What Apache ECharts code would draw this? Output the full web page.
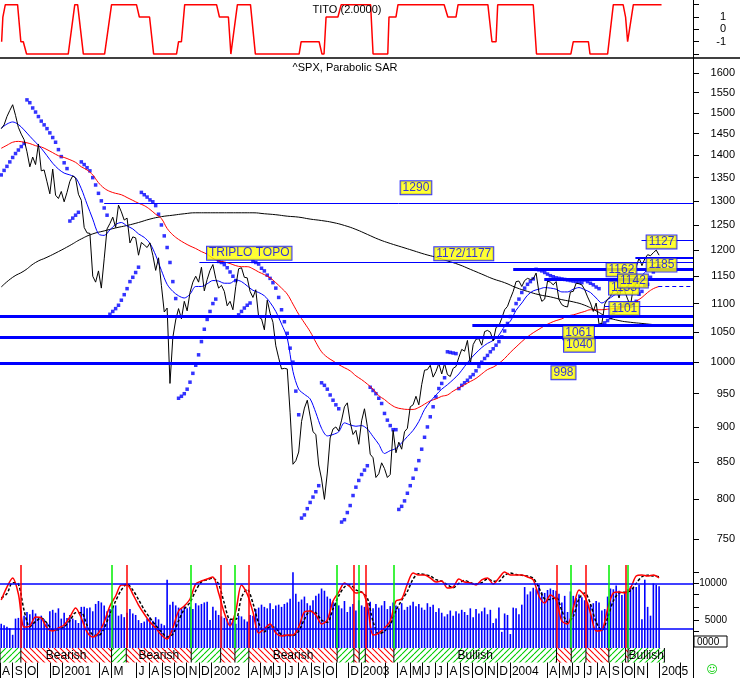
<!DOCTYPE html>
<html>
<head>
<meta charset="utf-8">
<title>^SPX, Parabolic SAR</title>
<script src="https://cdn.jsdelivr.net/npm/echarts@6.0.0/dist/echarts.min.js"></script>
<style>
  html, body { margin: 0; padding: 0; background: #fff; }
  #chart { width: 740px; height: 678px; }
</style>
</head>
<body>
<div id="chart"></div>
<script>
const DAY = 86400000;
const ts = s => Date.parse(s + 'T00:00:00Z');

// weekly closes, first week ending 2000-08-04
const firstWeek = '2000-08-04';
const closes = [
  1462, 1471, 1491, 1506, 1520, 1494, 1465, 1449, 1436, 1408,
  1374, 1396, 1379, 1426, 1365, 1367, 1341, 1315, 1369, 1312,
  1305, 1320, 1298, 1318, 1342, 1354, 1349, 1314, 1301, 1245,
  1234, 1233, 1150, 1139, 1160, 1128, 1183, 1242, 1253, 1266,
  1245, 1291, 1277, 1260, 1264, 1214, 1226, 1224, 1190, 1215,
  1210, 1205, 1214, 1190, 1161, 1185, 1133, 1085, 1092, 966,
  1041, 1071, 1091, 1073, 1104, 1087, 1120, 1139, 1150, 1139,
  1167, 1123, 1144, 1161, 1172, 1146, 1128, 1133, 1122, 1096,
  1104, 1089, 1131, 1164, 1166, 1148, 1147, 1122, 1111, 1125,
  1076, 1073, 1054, 1106, 1083, 1067, 1027, 1007, 989, 990,
  989, 921, 847, 852, 864, 908, 928, 940, 916, 893,
  889, 846, 827, 800, 835, 884, 897, 900, 894, 910,
  930, 936, 907, 889, 895, 875, 909, 927, 901, 861,
  856, 829, 834, 849, 841, 829, 833, 895, 863, 878,
  868, 893, 898, 930, 933, 946, 933, 964, 987, 988,
  995, 976, 985, 998, 981, 998, 980, 977, 990, 993,
  1008, 1021, 1018, 1036, 997, 1029, 1038, 1039, 1028, 1051,
  1053, 1050, 1035, 1058, 1061, 1074, 1089, 1095, 1109, 1122,
  1140, 1141, 1131, 1142, 1146, 1144, 1145, 1156, 1120, 1104,
  1108, 1141, 1139, 1134, 1140, 1107, 1098, 1095, 1094, 1121,
  1122, 1137, 1136, 1134, 1125, 1112, 1101, 1086, 1101, 1064,
  1065, 1099, 1108, 1113, 1123, 1128, 1110, 1131, 1122, 1108,
  1096, 1130, 1167, 1185, 1170, 1183, 1191, 1189, 1195, 1200,
  1190
];
const sarValues = [
  1356, 1366, 1375, 1385, 1395, 1404, 1412, 1420, 1427, 1532,
  1525, 1512, 1502, 1491, 1480, 1471, 1462, 1452, 1441, 1430,
  1413, 1397, 1383, 1370, 1258, 1264, 1270, 1276, 1385, 1379,
  1372, 1365, 1350, 1334, 1316, 1300, 1285, 1270, 1081, 1086,
  1091, 1097, 1106, 1116, 1127, 1140, 1148, 1157, 1167, 1318,
  1313, 1308, 1302, 1298, 1290, 1272, 1250, 1228, 1205, 1176,
  1140, 1109, 943, 946, 950, 957, 968, 982, 995, 1012,
  1034, 1055, 1072, 1086, 1100, 1108, 1178, 1176, 1172, 1166,
  1158, 1150, 1142, 1080, 1086, 1092, 1097, 1101, 1178, 1176,
  1173, 1165, 1160, 1152, 1146, 1138, 1128, 1111, 1089, 1068,
  1048, 1023, 1000, 954, 918, 776, 780, 788, 796, 803,
  810, 818, 967, 963, 957, 948, 940, 933, 927, 771,
  774, 783, 792, 805, 816, 825, 833, 839, 845, 960,
  955, 950, 943, 935, 920, 910, 902, 896, 896, 787,
  791, 798, 808, 818, 828, 840, 852, 868, 885, 900,
  915, 930, 945, 958, 966, 975, 1017, 1016, 1015, 1014,
  958, 963, 967, 971, 976, 980, 986, 993, 1000, 1006,
  1011, 1017, 1022, 1028, 1034, 1042, 1052, 1065, 1077, 1088,
  1100, 1108, 1120, 1128, 1135, 1140, 1145, 1163, 1162, 1160,
  1157, 1154, 1151, 1149, 1147, 1146, 1145, 1144, 1143, 1142,
  1141, 1140, 1139, 1138, 1143, 1140, 1137, 1134, 1130, 1127,
  1063, 1066, 1070, 1075, 1081, 1087, 1092, 1096, 1099, 1100,
  1095, 1100, 1104, 1117, 1122, 1133, 1135, 1148, 1158, 1165,
  1170
];
const volumes = [
  4500, 4300, 4100, 3900, 3000, 5200, 5300, 6300, 5600, 6100,
  5800, 6400, 5900, 5400, 5600, 5100, 4600, 6200, 6400, 6000,
  6600, 5200, 6000, 5300, 5700, 5200, 5000, 4600, 6800, 6800,
  6600, 6700, 6200, 7200, 7600, 7400, 7000, 6200, 6500, 6800,
  7000, 5600, 5800, 5400, 6000, 6500, 5900, 5700, 5000, 4600,
  4800, 5200, 5400, 4900, 5400, 5100, 4500, 4300, 10500, 7100,
  7500, 7000, 6700, 6600, 6900, 6600, 6800, 6500, 7300, 7000,
  7200, 7400, 7500, 5000, 6800, 6300, 5700, 5500, 5300, 5200,
  5100, 5000, 4500, 5600, 5500, 5100, 4800, 5700, 5600, 6500,
  6700, 7100, 6800, 6600, 7300, 6500, 7000, 7100, 6800, 7200,
  7400, 7900, 11500, 8600, 7500, 7800, 8200, 7300, 7000, 7700,
  8300, 8600, 9300, 9000, 8200, 7900, 7500, 7400, 7000, 6600,
  7600, 6100, 6800, 7200, 6300, 7700, 7000, 6800, 7300, 7500,
  6600, 7200, 6700, 7000, 7600, 6500, 6900, 7400, 7000, 6600,
  7300, 6400, 6800, 7000, 7500, 6900, 7200, 6700, 6400, 7300,
  6800, 7100, 6100, 6600, 6000, 5500, 5800, 6300, 5600, 6200,
  5900, 6400, 6100, 5700, 6600, 5400, 6500, 5900, 6200, 6700,
  5800, 6400, 4600, 5200, 6700, 3400, 5900, 5700, 3100, 6700,
  6600, 5800, 7100, 9500, 8500, 8900, 9400, 9200, 9800, 8800,
  8700, 9100, 9300, 9100, 9000, 8600, 7400, 8300, 6100, 8900,
  8300, 8000, 8500, 8100, 7700, 7400, 7100, 7300, 7600, 7400,
  6300, 6500, 8200, 9300, 9200, 9700, 9000, 8400, 8800, 9200,
  9600, 9400, 9500, 9800, 5100, 10500, 6800, 5600, 10000, 9800,
  9600
];

// every second week
const blueMa = [
  1463, 1473, 1478, 1472, 1459, 1444, 1430, 1416, 1399, 1382,
  1369, 1360, 1356, 1350, 1326, 1293, 1262, 1232, 1229, 1240,
  1251, 1255, 1248, 1242, 1232, 1225, 1213, 1190, 1161, 1135,
  1122, 1114, 1110, 1117, 1131, 1131, 1136, 1142, 1141, 1137,
  1137, 1143, 1140, 1132, 1124, 1120, 1114, 1102, 1086, 1064,
  1040, 985, 957, 949, 942, 921, 898, 887, 889, 893,
  906, 903, 901, 902, 897, 886, 875, 862, 866, 869,
  877, 886, 895, 908, 926, 938, 948, 957, 964, 972,
  981, 993, 1005, 1015, 1024, 1031, 1036, 1045, 1060, 1069,
  1088, 1101, 1115, 1123, 1126, 1129, 1128, 1126, 1121, 1121,
  1126, 1129, 1125, 1120, 1110, 1101, 1107, 1114, 1121, 1124,
  1128, 1137, 1151, 1163, 1173, 1178
];
const redMa = [
  1416, 1423, 1430, 1432, 1430, 1427, 1422, 1419, 1413, 1406,
  1399, 1395, 1390, 1384, 1374, 1367, 1356, 1339, 1327, 1320,
  1316, 1313, 1307, 1301, 1295, 1290, 1282, 1272, 1263, 1243,
  1230, 1221, 1214, 1208, 1203, 1197, 1192, 1184, 1179, 1177,
  1174, 1170, 1168, 1168, 1164, 1158, 1153, 1147, 1138, 1128,
  1117, 1099, 1081, 1066, 1051, 1033, 1017, 1008, 1002, 996,
  991, 986, 978, 972, 965, 957, 947, 941, 934, 929,
  927, 926, 926, 929, 934, 939, 942, 946, 948, 954,
  959, 964, 969, 974, 981, 988, 992, 998, 1006, 1016,
  1025, 1034, 1042, 1049, 1055, 1061, 1066, 1070, 1073, 1078,
  1080, 1083, 1086, 1089, 1089, 1089, 1090, 1091, 1092, 1094,
  1097, 1104, 1111, 1120, 1127, 1131
];
const oscLine = [
  7740, 9500, 10730, 8550, 4060, 4200, 5420, 5290, 3920, 3520,
  3920, 4330, 5420, 6650, 5290, 3380, 2700, 3240, 4740, 6920,
  8280, 9780, 9780, 8550, 7050, 5830, 4740, 3920, 2970, 2430,
  3920, 6240, 6920, 7870, 9910, 10320, 10590, 10870, 8690, 5970,
  4200, 6240, 9780, 8550, 6100, 3240, 3790, 4470, 3240, 2830,
  2970, 2970, 4060, 6100, 6240, 5690, 4470, 5010, 7600, 8820,
  10050, 9500, 8690, 8820, 7050, 2970, 3240, 3920, 4880, 7600,
  7870, 9910, 11410, 11140, 11140, 10730, 10190, 10320, 9370, 9500,
  10590, 10190, 10050, 9780, 10460, 10730, 9910, 10730, 11550, 11140,
  11140, 11140, 10870, 10460, 8280, 7330, 8420, 7740, 4880, 4470,
  6650, 9100, 8280, 5970, 3520, 3650, 6510, 8690, 8820, 8690,
  9370, 11000, 11140, 11000, 11140, 10730
];
const oscSignal = [
  8000, 8600, 10100, 9900, 6300, 4100, 4800, 5300, 4600, 3700,
  3700, 4100, 4900, 6000, 6000, 4300, 3000, 2900, 3900, 5800,
  7600, 9100, 9900, 9100, 7800, 6400, 5300, 4300, 3400, 2700,
  3100, 4900, 6500, 7400, 9000, 10200, 10500, 10700, 9900, 7300,
  5100, 5100, 8100, 9200, 7300, 4600, 3400, 4100, 3900, 3000,
  2900, 2900, 3500, 5100, 6200, 6000, 5000, 4700, 6500, 8300,
  9500, 9800, 9100, 8800, 8000, 4800, 3100, 3500, 4400, 6300,
  7700, 8900, 10600, 11300, 11200, 11000, 10500, 10300, 9800, 9400,
  10000, 10400, 10100, 9900, 10100, 10600, 10300, 10300, 11100, 11400,
  11200, 11100, 11000, 10700, 9400, 7900, 7800, 8100, 6300, 4700,
  5500, 7900, 8700, 7200, 4700, 3600, 5300, 7600, 8700, 8800,
  9000, 10000, 10900, 11100, 11000, 10900
];

// every fourth week
const longMa = [
  1130, 1148, 1160, 1176, 1186, 1197, 1209, 1222, 1232, 1238,
  1244, 1249, 1255, 1262, 1267, 1270, 1273, 1275, 1275, 1275,
  1275, 1275, 1275, 1273, 1271, 1268, 1266, 1262, 1259, 1255,
  1249, 1241, 1231, 1221, 1213, 1206, 1199, 1192, 1186, 1179,
  1172, 1163, 1154, 1145, 1138, 1129, 1122, 1116, 1112, 1107,
  1103, 1097, 1087, 1076, 1070, 1067, 1065, 1063
];

const titoDates = [
  '2000-08-05', '2000-08-08', '2000-08-14', '2000-09-13', '2000-09-21', '2000-09-27', '2000-10-05',
  '2001-01-15', '2001-01-31', '2001-02-07', '2001-02-21', '2001-04-14', '2001-05-01', '2001-07-01',
  '2001-07-08', '2001-08-02', '2001-08-12', '2001-10-07', '2001-10-12', '2001-10-19', '2001-10-27',
  '2002-01-13', '2002-01-20', '2002-02-11', '2002-02-17', '2002-03-05', '2002-04-06', '2002-04-18',
  '2002-08-03', '2002-08-08', '2002-09-21', '2002-09-28', '2002-10-03', '2002-10-08', '2002-11-06',
  '2002-11-14', '2003-01-25', '2003-01-31', '2003-03-08', '2003-03-11', '2003-03-28', '2003-04-02',
  '2003-07-24', '2003-08-02', '2003-08-22', '2003-08-27', '2003-11-08', '2003-11-18', '2003-11-28',
  '2003-12-02', '2004-02-27', '2004-03-06', '2004-05-29', '2004-06-04', '2004-07-11', '2004-07-15',
  '2004-08-27', '2004-09-10', '2004-10-04', '2004-10-10', '2004-10-15', '2004-10-29', '2005-01-06'
];
const titoValues = [
  -1, 1, 2, 2, -1, -1, -2,
  -2, 2, 2, -2, -2, 2, 2,
  1, 1, -2, -2, -1, -1, 2,
  2, 1, 1, -2, 2, 2, -2,
  -2, -1, -1, -2, -2, 1, 1,
  2, 2, -2, -2, 1, 1, 2,
  2, 1, 1, 2, 2, -1, -1,
  2, 2, -2, -2, -1, -1, -2,
  -2, 2, 2, 1, -1, 2, 2
];

// trend signals: 'sell' starts a bearish stretch, 'buy' a bullish one
const signalDates = [
  '2000-09-21', '2001-05-01', '2001-06-06', '2001-11-12', '2002-01-23', '2002-02-27',
  '2002-04-02', '2002-11-04', '2002-12-15', '2002-12-28', '2003-01-12', '2003-03-23',
  '2004-04-24', '2004-05-30', '2004-07-05', '2004-08-30', '2004-10-10', '2004-10-16'
];
const signalKinds = [
  'sell', 'buy', 'sell', 'buy', 'sell', 'buy',
  'sell', 'buy', 'sell', 'buy', 'sell', 'buy',
  'sell', 'buy', 'sell', 'buy', 'sell', 'buy'
];
const trendEnd = '2005-01-13';
const trendLabels = [
  '', 'Bearish', '', 'Bearish', '', '', '', 'Bearish', '', '',
  '', '', 'Bullish', '', '', '', '', '', 'Bullish'
];

// support / resistance levels
const levelValues = [1294, 1177, 1220, 1186, 1164, 1145, 1131, 1095, 1078, 1062, 1042, 999];
const levelStarts = [
  '2001-04-13', '2001-12-02', '2004-11-18', '2004-11-03', '2004-01-09', '2004-03-25',
  '2004-12-29', '2004-08-19', '2000-08-01', '2003-10-01', '2000-08-01', '2000-08-01'
];

const noteTexts = ['1290', 'TRIPLO TOPO', '1172/1177', '1133', '1162', '1142', '1127', '1185', '1101', '1061', '1040', '998'];
const noteDates = [
  '2003-05-16', '2002-04-03', '2003-09-10', '2004-10-06', '2004-09-30', '2004-10-28',
  '2005-01-06', '2005-01-06', '2004-10-07', '2004-06-17', '2004-06-19', '2004-05-11'
];
const noteValues = [1328, 1194, 1193, 1128, 1162, 1141, 1216, 1171, 1091, 1049, 1028, 983];

const priceTicks = [750, 800, 850, 900, 950, 1000, 1050, 1100, 1150, 1200, 1250, 1300, 1350, 1400, 1450, 1500, 1550, 1600];
const titoTicks = [-2, -1, 0, 1, 2];
const titoLabels = [-1, 0, 1];
const volTicks = [3500, 5000, 6750, 8500, 10000, 11500];
const volLabels = [5000, 10000];
const oscLevels = [10000, 3800];

const monthDates = [
  '2000-08-01', '2000-09-01', '2000-10-01', '2000-12-01',
  '2001-01-01', '2001-04-01', '2001-05-01', '2001-07-01', '2001-08-01', '2001-09-01', '2001-10-01', '2001-11-01', '2001-12-01',
  '2002-01-01', '2002-04-01', '2002-05-01', '2002-06-01', '2002-07-01', '2002-08-01', '2002-09-01', '2002-10-01', '2002-12-01',
  '2003-01-01', '2003-04-01', '2003-05-01', '2003-06-01', '2003-07-01', '2003-08-01', '2003-09-01', '2003-10-01', '2003-11-01', '2003-12-01',
  '2004-01-01', '2004-04-01', '2004-05-01', '2004-06-01', '2004-07-01', '2004-08-01', '2004-09-01', '2004-10-01', '2004-11-01',
  '2005-01-01'
];
const monthTexts = [
  'A', 'S', 'O', 'D',
  '2001', 'A', 'M', 'J', 'A', 'S', 'O', 'N', 'D',
  '2002', 'A', 'M', 'J', 'J', 'A', 'S', 'O', 'D',
  '2003', 'A', 'M', 'J', 'J', 'A', 'S', 'O', 'N', 'D',
  '2004', 'A', 'M', 'J', 'J', 'A', 'S', 'O', 'N',
  '2005'
];
const blankMonthDates = ['2000-11-01', '2002-11-01', '2003-03-01', '2004-12-01', '2005-02-20'];

// ---------------------------------------------------------------
const FONT = "'Liberation Sans', Arial, sans-serif";
const xMin = ts('2000-08-01');
const xMax = ts('2005-03-24');
const t0 = ts(firstWeek);
const every = (weeks, arr) => arr.map((v, i) => [t0 + i * weeks * 7 * DAY, v]);

const monthText = new Map(monthDates.map((d, i) => [ts(d), monthTexts[i]]));

function hatch(color, rising) {
  const c = document.createElement('canvas');
  c.width = 6; c.height = 6;
  const g = c.getContext('2d');
  g.strokeStyle = color;
  g.lineWidth = 1.1;
  g.beginPath();
  for (let k = -6; k <= 6; k += 6) {
    if (rising) { g.moveTo(k, 6); g.lineTo(k + 6, 0); }
    else { g.moveTo(k, 0); g.lineTo(k + 6, 6); }
  }
  g.stroke();
  return { image: c, repeat: 'repeat' };
}
const bearFill = hatch('#ff0000', false);
const bullFill = hatch('#00cc00', true);

const trendStarts = [xMin].concat(signalDates.map(ts));
const trendEnds = signalDates.map(ts).concat([ts(trendEnd)]);
const trendBear = [false].concat(signalKinds.map(k => k === 'sell'));

const levelLook = [
  { width: 1 }, { width: 1 }, { width: 1 }, { width: 2 }, { width: 3 }, { width: 3 },
  { width: 1, type: [4, 3] }, { width: 1 }, { width: 3 }, { width: 3 }, { width: 3 }, { width: 3 }
];

const hiddenX = i => ({ type: 'value', gridIndex: i, min: xMin, max: xMax, show: false });
const rightY = (i, extra) => Object.assign({
  gridIndex: i, position: 'right',
  axisLine: { show: false }, splitLine: { show: false },
}, extra);

const chart = echarts.init(document.getElementById('chart'), null, { renderer: 'canvas' });

chart.setOption({
  animation: false,
  backgroundColor: '#ffffff',
  textStyle: { fontFamily: FONT },
  grid: [
    { left: 0, right: 47, top: 0, height: 58, outerBoundsMode: 'none' },
    { left: 0, right: 47, top: 58, height: 507, outerBoundsMode: 'none' },
    { left: 0, right: 47, top: 565, height: 83, outerBoundsMode: 'none' },
    { left: 0, right: 47, top: 648, height: 14.5, outerBoundsMode: 'none' }
  ],
  xAxis: [
    hiddenX(0), hiddenX(1), hiddenX(2),
    {
      type: 'value', gridIndex: 3, min: xMin, max: xMax,
      axisLine: { show: false }, splitLine: { show: false },
      axisTick: {
        customValues: monthDates.concat(blankMonthDates).map(ts),
        length: 16, lineStyle: { color: '#000', width: 1 }
      },
      axisLabel: {
        customValues: monthDates.map(ts),
        formatter: v => monthText.get(v) || '',
        align: 'left', verticalAlign: 'top', margin: 3, padding: [0, 0, 0, 2],
        fontSize: 12, fontFamily: FONT, color: '#000'
      }
    }
  ],
  yAxis: [
    rightY(0, {
      type: 'value', min: -2.32, max: 2.38,
      axisTick: { customValues: titoTicks, length: 6, lineStyle: { color: '#000' } },
      axisLabel: { customValues: titoLabels, formatter: v => String(v), align: 'right', margin: 33, fontSize: 11, color: '#000' }
    }),
    rightY(1, {
      type: 'log', logBase: 10, min: 719, max: 1640,
      axisTick: { customValues: priceTicks, length: 6, lineStyle: { color: '#000' } },
      axisLabel: { customValues: priceTicks, formatter: v => String(Math.round(v)), align: 'right', margin: 42, fontSize: 11, color: '#000' }
    }),
    rightY(2, {
      type: 'value', min: 1200, max: 12500,
      axisTick: { customValues: volTicks, length: 6, lineStyle: { color: '#000' } },
      axisLabel: { customValues: volLabels, formatter: v => String(v), align: 'right', margin: 34, fontSize: 10, color: '#000' }
    }),
    { type: 'value', gridIndex: 3, min: 0, max: 1, show: false }
  ],
  graphic: [
    { type: 'line', z: 50, shape: { x1: 0, y1: 58, x2: 740, y2: 58 }, style: { stroke: '#000', lineWidth: 1.5 } },
    { type: 'line', z: 50, shape: { x1: 693.5, y1: 0, x2: 693.5, y2: 678 }, style: { stroke: '#000', lineWidth: 1 } },
    { type: 'text', z: 50, x: 347, y: 10, style: { text: 'TITO (2.0000)', align: 'center', verticalAlign: 'middle', fontSize: 11, fontFamily: FONT, fill: '#000' } },
    { type: 'text', z: 50, x: 345, y: 68, style: { text: '^SPX, Parabolic SAR', align: 'center', verticalAlign: 'middle', fontSize: 11, fontFamily: FONT, fill: '#000' } },
    { type: 'rect', z: 50, shape: { x: 694, y: 636, width: 33, height: 11 }, style: { fill: '#fff', stroke: '#000', lineWidth: 1 } },
    { type: 'text', z: 51, x: 697, y: 642, style: { text: '0000', verticalAlign: 'middle', fontSize: 10, fontFamily: FONT, fill: '#000' } },
    { type: 'text', z: 50, x: 712, y: 670, style: { text: '\u263A', align: 'center', verticalAlign: 'middle', fontSize: 11, fontFamily: "'DejaVu Sans', sans-serif", fill: '#00cc00' } }
  ],
  series: [
    {
      name: 'TITO', type: 'line', xAxisIndex: 0, yAxisIndex: 0,
      data: titoDates.map((d, i) => [ts(d), titoValues[i]]),
      showSymbol: false, silent: true,
      lineStyle: { color: '#ff0000', width: 1.5 }
    },
    {
      name: 'long MA', type: 'line', xAxisIndex: 1, yAxisIndex: 1,
      data: every(4, longMa), smooth: true, showSymbol: false, silent: true,
      lineStyle: { color: '#000', width: 1 }
    },
    {
      name: 'red MA', type: 'line', xAxisIndex: 1, yAxisIndex: 1,
      data: every(2, redMa), smooth: 0.4, showSymbol: false, silent: true,
      lineStyle: { color: '#ff0000', width: 1 }
    },
    {
      name: 'blue MA', type: 'line', xAxisIndex: 1, yAxisIndex: 1,
      data: every(2, blueMa), smooth: 0.3, showSymbol: false, silent: true,
      lineStyle: { color: '#0000ff', width: 1 }
    },
    {
      name: '^SPX', type: 'line', xAxisIndex: 1, yAxisIndex: 1,
      data: every(1, closes), showSymbol: false, silent: true,
      lineStyle: { color: '#000', width: 1 },
      markLine: {
        silent: true, symbol: ['none', 'none'], label: { show: false },
        lineStyle: { color: '#0000ff', type: 'solid' },
        data: levelValues.map((v, i) => [
          { coord: [ts(levelStarts[i]), v], lineStyle: Object.assign({ color: '#0000ff', type: 'solid' }, levelLook[i]) },
          { coord: [xMax, v] }
        ])
      }
    },
    {
      name: 'Parabolic SAR', type: 'scatter', xAxisIndex: 1, yAxisIndex: 1,
      data: every(1, sarValues), symbol: 'rect', symbolSize: 3.5, silent: true,
      itemStyle: { color: '#0000ff' }
    },
    {
      name: 'notes', type: 'scatter', xAxisIndex: 1, yAxisIndex: 1, z: 20, silent: true,
      symbolSize: 1, itemStyle: { color: 'rgba(0,0,0,0)' },
      data: noteTexts.map((t, i) => ({ name: t, value: [ts(noteDates[i]), noteValues[i]] })),
      label: {
        show: true, position: 'inside', formatter: p => p.name,
        color: '#0000ff', backgroundColor: '#ffff00', borderColor: '#0000ff', borderWidth: 1,
        padding: [1, 2, 0, 2], fontSize: 12, lineHeight: 12, fontFamily: FONT
      }
    },
    {
      name: 'volume', type: 'bar', xAxisIndex: 2, yAxisIndex: 2,
      data: every(1, volumes), barWidth: 1.6, silent: true,
      itemStyle: { color: '#0000ff' },
      markLine: {
        silent: true, symbol: ['none', 'none'], label: { show: false },
        data: oscLevels.map(v => ({ yAxis: v, lineStyle: { color: '#0000ff', width: 1.5, type: 'solid' } }))
          .concat(signalDates.map((d, i) => ({
            xAxis: ts(d),
            lineStyle: { color: signalKinds[i] === 'sell' ? '#ff0000' : '#00ee00', width: 1.5, type: 'solid' }
          })))
      }
    },
    {
      name: 'signal', type: 'line', xAxisIndex: 2, yAxisIndex: 2,
      data: every(2, oscSignal), smooth: 0.3, showSymbol: false, silent: true,
      lineStyle: { color: '#000', width: 1.5, type: [3, 2] }
    },
    {
      name: 'oscillator', type: 'line', xAxisIndex: 2, yAxisIndex: 2,
      data: every(2, oscLine), smooth: 0.3, showSymbol: false, silent: true,
      lineStyle: { color: '#ff0000', width: 1.5 }
    },
    {
      name: 'trend', type: 'custom', xAxisIndex: 3, yAxisIndex: 3, silent: true,
      encode: { x: [0, 1] },
      data: trendStarts.map((s, i) => [s, trendEnds[i], i]),
      renderItem: (params, api) => {
        const i = params.dataIndex;
        const a = api.coord([api.value(0), 1]);
        const b = api.coord([api.value(1), 0]);
        const kids = [
          { type: 'rect', shape: { x: a[0], y: a[1], width: b[0] - a[0], height: b[1] - a[1] },
            style: { fill: trendBear[i] ? bearFill : bullFill } },
          { type: 'line', shape: { x1: a[0], y1: a[1], x2: a[0], y2: b[1] }, style: { stroke: '#000', lineWidth: 1 } }
        ];
        if (i === trendStarts.length - 1) {
          kids.push({ type: 'line', shape: { x1: b[0], y1: a[1], x2: b[0], y2: b[1] }, style: { stroke: '#000', lineWidth: 1 } });
        }
        if (trendLabels[i]) {
          kids.push({ type: 'text', x: (a[0] + b[0]) / 2, y: (a[1] + b[1]) / 2 + 0.5,
            style: { text: trendLabels[i], align: 'center', verticalAlign: 'middle', fontSize: 12, fontFamily: FONT, fill: '#000' } });
        }
        return { type: 'group', children: kids };
      }
    }
  ]
});
</script>
</body>
</html>
